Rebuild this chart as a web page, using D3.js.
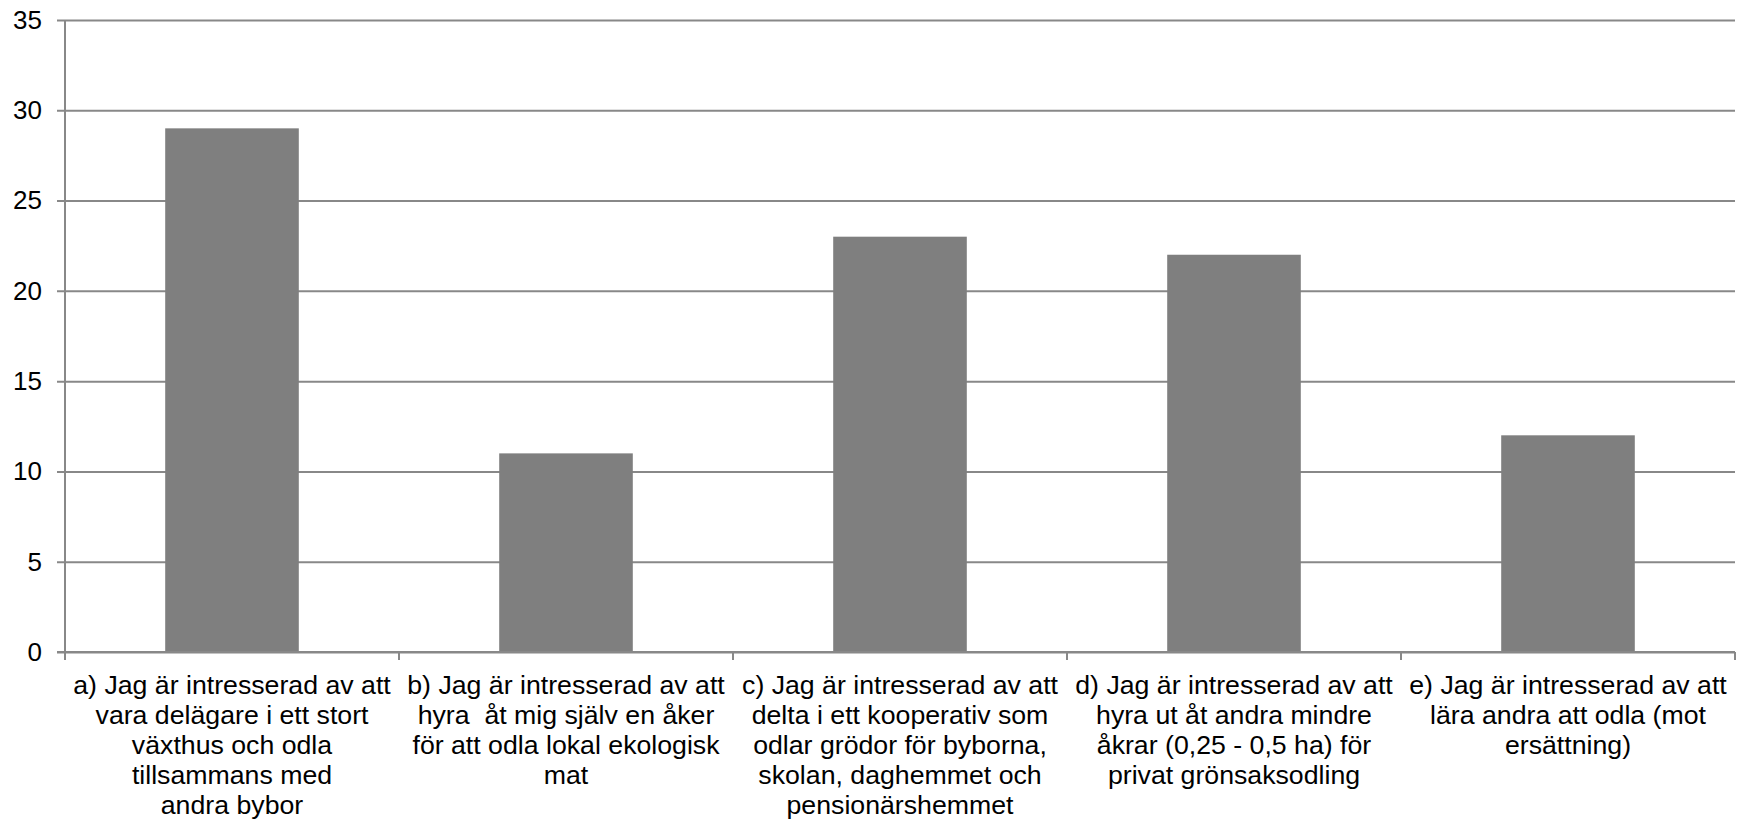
<!DOCTYPE html>
<html>
<head>
<meta charset="utf-8">
<script src="https://cdn.jsdelivr.net/npm/d3@7"></script>
<style>
  body { margin: 0; background: #fff; }
  svg { display: block; font-family: "Liberation Sans", Arial, sans-serif; }
</style>
</head>
<body>
<div id="chart"></div>
<script>
// categories (one array of lines per bar) and values
const categories = [
    ["a) Jag är intresserad av att", "vara delägare i ett stort", "växthus och odla", "tillsammans med", "andra bybor"],
    ["b) Jag är intresserad av att", "hyra  åt mig själv en åker", "för att odla lokal ekologisk", "mat"],
    ["c) Jag är intresserad av att", "delta i ett kooperativ som", "odlar grödor för byborna,", "skolan, daghemmet och", "pensionärshemmet"],
    ["d) Jag är intresserad av att", "hyra ut åt andra mindre", "åkrar (0,25 - 0,5 ha) för", "privat grönsaksodling"],
    ["e) Jag är intresserad av att", "lära andra att odla (mot", "ersättning)"]
];
const values = [29, 11, 23, 22, 12];
const yTicks = [0, 5, 10, 15, 20, 25, 30, 35];

const margin = { top: 20, right: 9, bottom: 168, left: 65 };
const W = 1744, H = 820;
const width = W - margin.left - margin.right;
const height = H - margin.top - margin.bottom;

const gridColor = "#888888";
const barColor = "#7f7f7f";

const svg = d3.select("#chart")
    .append("svg")
    .attr("width", W)
    .attr("height", H)
    .append("g")
    .attr("transform", `translate(${margin.left},${margin.top})`);

const keys = categories.map((d, i) => i);

const x = d3.scaleBand()
    .domain(keys)
    .range([0, width])
    .paddingInner(0.6)
    .paddingOuter(0.3);

const y = d3.scaleLinear()
    .domain([0, 35])
    .range([height, 0]);

// gridlines + y labels
const yAxis = svg.append("g")
    .attr("transform", "translate(-8,0)")
    .call(d3.axisLeft(y).tickValues(yTicks).tickSize(-(width + 8)).tickPadding(15));
yAxis.select(".domain").remove();
yAxis.selectAll(".tick line")
    .attr("stroke", gridColor)
    .attr("stroke-width", 2);
yAxis.selectAll(".tick text")
    .attr("fill", "#000")
    .style("font-size", "26px")
    .style("font-family", "'Liberation Sans', Arial, sans-serif");

// vertical axis line
svg.append("line")
    .attr("x1", 0).attr("x2", 0)
    .attr("y1", 0).attr("y2", height + 8)
    .attr("stroke", gridColor)
    .attr("stroke-width", 2);

// category boundary ticks
const boundaries = keys.map(k => x(k) - x.step() * x.paddingOuter()).concat([width]);
svg.selectAll(".xtick")
    .data(boundaries)
    .enter().append("line")
    .attr("class", "xtick")
    .attr("x1", d => d).attr("x2", d => d)
    .attr("y1", height).attr("y2", height + 8)
    .attr("stroke", gridColor)
    .attr("stroke-width", 2);

// bars
svg.selectAll(".bar")
    .data(values)
    .enter().append("rect")
    .attr("class", "bar")
    .attr("x", (d, i) => x(i))
    .attr("y", d => y(d))
    .attr("width", x.bandwidth())
    .attr("height", d => height - y(d))
    .attr("fill", barColor);

// x axis line on top
svg.append("line")
    .attr("x1", -8).attr("x2", width)
    .attr("y1", height).attr("y2", height)
    .attr("stroke", gridColor)
    .attr("stroke-width", 2);

// category labels
const labels = svg.selectAll(".cat")
    .data(categories)
    .enter().append("text")
    .attr("class", "cat")
    .attr("text-anchor", "middle")
    .attr("fill", "#000")
    .style("font-size", "26.7px")
    .style("white-space", "pre")
    .attr("transform", (d, i) => `translate(${x(i) + x.bandwidth() / 2},${height + 42})`);

labels.selectAll("tspan")
    .data(d => d)
    .enter().append("tspan")
    .attr("x", 0)
    .attr("y", (d, i) => i * 30)
    .text(d => d);
</script>
</body>
</html>
